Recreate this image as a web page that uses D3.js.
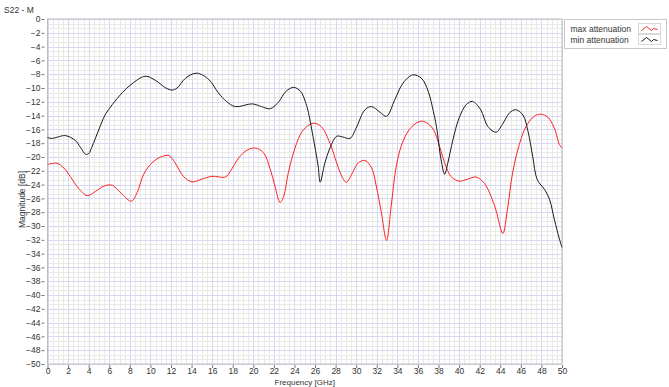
<!DOCTYPE html>
<html>
<head>
<meta charset="utf-8">
<script src="https://d3js.org/d3.v7.min.js"></script>
<style>
  body { margin: 0; background: #fff; }
  text { font-family: "Liberation Sans", Arial, sans-serif; fill: #333; }
</style>
</head>
<body>
<svg width="669" height="387"></svg>
<script>
// frequency readings (GHz) and magnitudes (dB)
var maxFreq = [0, 0.9, 1.6, 2.2, 3.0, 3.85, 4.65, 5.5, 6.3, 7.25, 8.15, 8.7, 9.35, 10.15, 11.0, 11.8, 12.4, 13.2,
  14.05, 15.0, 16.0, 17.3, 17.75, 18.6, 19.4, 20.2, 21.0, 21.65, 22.1, 22.6, 22.95, 23.4, 23.9, 24.55, 25.05,
  25.8, 26.6, 27.45, 28.1, 28.6, 29.05, 29.7, 30.2, 30.85, 31.5, 31.95, 32.45, 32.95, 33.4, 33.9, 34.55,
  35.4, 36.35, 37.0, 37.5, 37.9, 38.6, 39.2, 40.0, 40.85, 41.65, 42.45, 43.1, 43.6, 44.25, 44.7, 45.2,
  45.85, 46.5, 47.3, 47.95, 48.6, 49.25, 49.75, 50];
var maxMag = [-21.1, -20.9, -21.6, -22.8, -24.5, -25.6, -25.0, -24.2, -24.1, -25.4, -26.4, -25.2, -22.5, -20.85,
  -20.0, -19.8, -20.85, -22.8, -23.6, -23.2, -22.8, -22.9, -22.1, -20.1, -19.0, -18.7, -19.4, -21.8, -24.2,
  -26.6, -25.7, -22.3, -19.4, -16.8, -15.8, -15.1, -15.6, -18.0, -20.85, -22.8, -23.65, -22.1, -20.85, -20.5,
  -21.6, -24.2, -28.1, -32.1, -27.1, -21.3, -17.7, -15.6, -14.8, -15.2, -16.0, -17.5, -20.85, -22.8, -23.5,
  -23.2, -22.9, -23.8, -25.7, -27.8, -31.1, -27.6, -22.3, -18.2, -15.6, -14.1, -13.8, -14.2, -15.8, -18.2, -18.7];

var minFreq = [0, 0.5, 1.0, 1.75, 2.7, 3.2, 3.7, 4.0, 4.3, 5.0, 5.6, 6.3, 7.25, 8.2, 9.5, 10.5, 11.5, 12.1, 12.6,
  13.4, 14.5, 15.7, 16.6, 17.4, 18.25, 19.9, 20.8, 21.65, 22.5, 23.1, 23.9, 24.6, 25.05, 25.3, 25.8, 26.3,
  26.5, 26.95, 27.45, 28.1, 28.7, 29.4, 30.0, 30.85, 31.5, 32.3, 32.95, 33.75, 34.55, 35.5, 36.35, 37.0,
  37.5, 37.8, 38.25, 38.6, 38.9, 39.4, 40.0, 40.7, 41.3, 42.1, 42.8, 43.6, 44.2, 44.9, 45.5, 46.2, 46.7,
  47.15, 47.6, 48.3, 48.8, 49.25, 49.75, 50];
var minMag = [-17.2, -17.3, -17.1, -16.9, -17.6, -18.6, -19.6, -19.5, -18.6, -16.0, -13.9, -12.4, -10.7, -9.4,
  -8.3, -8.9, -10.0, -10.3, -10.0, -8.6, -7.85, -8.8, -10.7, -11.95, -12.7, -12.3, -12.7, -13.0, -11.95, -10.6,
  -9.9, -10.5, -11.95, -13.2, -17.0, -21.3, -23.65, -20.9, -18.7, -17.0, -17.1, -17.3, -15.8, -13.15, -12.7,
  -13.5, -14.1, -11.7, -9.3, -8.1, -8.6, -10.5, -13.4, -15.6, -20.4, -22.5, -20.9, -17.5, -14.35, -12.4,
  -11.95, -13.15, -15.6, -16.4, -15.3, -13.6, -13.15, -13.9, -16.3, -19.9, -23.3, -24.7, -26.2, -29.0, -31.9, -33.1];

var seriesNames = ["max attenuation", "min attenuation"];
var seriesColors = ["#ff2020", "#1a1a1a"];

var svg = d3.select("svg");

// plot area edges
var pLeft = 47.5, pRight = 562, pTop = 19, pBottom = 364;

var x = d3.scaleLinear().domain([0, 50]).range([pLeft, pRight]);
var y = d3.scaleLinear().domain([-50, 0]).range([pBottom, pTop]);

function px(v) { return Math.round(v) + 0.5; }

// minor grid, major every 2
var grid = svg.append("g");
function vLines(vals, color) {
  grid.append("g").selectAll("line").data(vals).enter().append("line")
      .attr("x1", function(d) { return px(x(d)); })
      .attr("x2", function(d) { return px(x(d)); })
      .attr("y1", pTop).attr("y2", pBottom)
      .attr("stroke", color);
}
function hLines(vals, color) {
  grid.append("g").selectAll("line").data(vals).enter().append("line")
      .attr("y1", function(d) { return px(y(d)); })
      .attr("y2", function(d) { return px(y(d)); })
      .attr("x1", pLeft).attr("x2", pRight)
      .attr("stroke", color);
}
vLines(d3.range(0, 50.01, 0.5), "#e9e9e9");
hLines(d3.range(-50, 0.01, 2 / 3), "#e9e9e9");
vLines(d3.range(0, 50.01, 2), "#d8d8f6");
hLines(d3.range(-50, 0.01, 2), "#d8d8f6");

// frame
svg.append("rect")
    .attr("x", pLeft).attr("y", pTop)
    .attr("width", pRight - pLeft).attr("height", pBottom - pTop)
    .attr("fill", "none").attr("stroke", "#bcbcbc");

// axes
var yAxis = svg.append("g")
    .attr("transform", "translate(" + (pLeft - 3) + ",0)")
    .call(d3.axisLeft(y).tickValues(d3.range(-50, 0.01, 2)).tickSize(3).tickPadding(1));
var xAxis = svg.append("g")
    .attr("transform", "translate(0," + (pBottom + 1) + ")")
    .call(d3.axisBottom(x).tickValues(d3.range(0, 50.01, 2)).tickSize(3).tickPadding(0));
[yAxis, xAxis].forEach(function(a) {
  a.select(".domain").remove();
  a.selectAll("line").attr("stroke", "#777");
  a.selectAll("text").style("font-family", "'Liberation Sans', Arial, sans-serif")
    .style("font-size", "8.5px").attr("fill", "#333");
});

// traces
var line = d3.line()
    .x(function(d) { return x(d[0]); })
    .y(function(d) { return y(d[1]); })
    .curve(d3.curveCatmullRom.alpha(0.5));

var series = [d3.zip(maxFreq, maxMag), d3.zip(minFreq, minMag)];
svg.selectAll(".trace").data(series).enter().append("path")
    .attr("class", "trace")
    .attr("d", line)
    .attr("fill", "none")
    .attr("stroke", function(d, i) { return seriesColors[i]; })
    .attr("stroke-width", 1);

// titles
svg.append("text").attr("x", 4).attr("y", 13).style("font-size", "8.5px").text("S22 - M");
svg.append("text").attr("x", (pLeft + pRight) / 2).attr("y", 385)
    .attr("text-anchor", "middle").style("font-size", "8px").text("Frequency [GHz]");
svg.append("text").attr("transform", "translate(25," + ((pTop + pBottom) / 2 + 8) + ") rotate(-90)")
    .attr("text-anchor", "middle").style("font-size", "8.5px").text("Magnitude [dB]");

// legend
var legend = svg.append("g").attr("transform", "translate(564.5,19.5)");
legend.append("rect").attr("width", 102).attr("height", 29)
    .attr("fill", "#fff").attr("stroke", "#c8c8c8");
var item = legend.selectAll(".item").data(seriesNames).enter().append("g")
    .attr("class", "item")
    .attr("transform", function(d, i) { return "translate(0," + (4 + i * 11) + ")"; });
item.append("text").attr("x", 6).attr("y", 8).style("font-size", "8.5px").text(function(d) { return d; });
item.append("rect").attr("x", 74).attr("y", 0).attr("width", 22).attr("height", 10)
    .attr("fill", "#fff").attr("stroke", "#d8d8d8");
item.append("path")
    .attr("d", "M77,7 L82,3 L87,7 L89,5 L93,6")
    .attr("fill", "none")
    .attr("stroke", function(d, i) { return seriesColors[i]; });
</script>
</body>
</html>
